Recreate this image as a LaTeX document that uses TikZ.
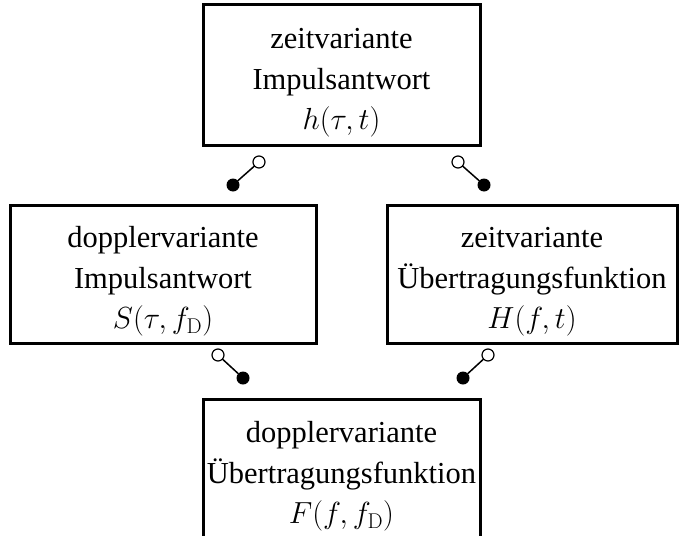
\RequirePackage{fix-cm}
\documentclass[tikz,border=0pt]{standalone}
\usepackage[no-math]{fontspec}
\setmainfont{Liberation Serif}
\newcommand{\toppad}{\rule{0pt}{36pt}}
\begin{document}
\begin{tikzpicture}[x=1pt,y=-1pt,
  box/.style={draw,line width=3pt,align=center,inner sep=0pt,
    font=\fontsize{30.5}{40.5}\selectfont},
  opencirc/.style={circle,draw,fill=white,line width=1.2pt,minimum size=12pt,inner sep=0pt},
  filledcirc/.style={circle,fill=black,minimum size=13pt,inner sep=0pt},
  corr/.style={line width=1.5pt,shorten <=-0.5pt,shorten >=-0.5pt}]
\useasboundingbox (0,0) rectangle (684,535);
\clip (0,0) rectangle (684,535);
\node[box,minimum width=277pt,minimum height=140pt] (top) at (341.5,75)
  {\toppad zeitvariante\\Impulsantwort\\$h(\tau,t)$};
\node[box,minimum width=306pt,minimum height=138pt] (left) at (163,274)
  {\toppad dopplervariante\\Impulsantwort\\$S(\tau,f_{\mathrm{D}})$};
\node[box,minimum width=290pt,minimum height=138pt] (right) at (532,274)
  {\toppad zeitvariante\\Übertragungsfunktion\\$H(f,t)$};
\node[box,minimum width=277pt,minimum height=140pt] (bottom) at (341.5,469)
  {\toppad dopplervariante\\Übertragungsfunktion\\$F(f,f_{\mathrm{D}})$};
% correspondence symbols
\node[filledcirc] (f1) at (233,185) {};
\node[opencirc] (o1) at (259,162) {};
\draw[corr] (f1) -- (o1);
\node[opencirc] (o2) at (458,162) {};
\node[filledcirc] (f2) at (484,185) {};
\draw[corr] (o2) -- (f2);
\node[opencirc] (o3) at (218,355) {};
\node[filledcirc] (f3) at (243,378) {};
\draw[corr] (o3) -- (f3);
\node[filledcirc] (f4) at (463,378) {};
\node[opencirc] (o4) at (488,355) {};
\draw[corr] (f4) -- (o4);
\end{tikzpicture}
\end{document}
